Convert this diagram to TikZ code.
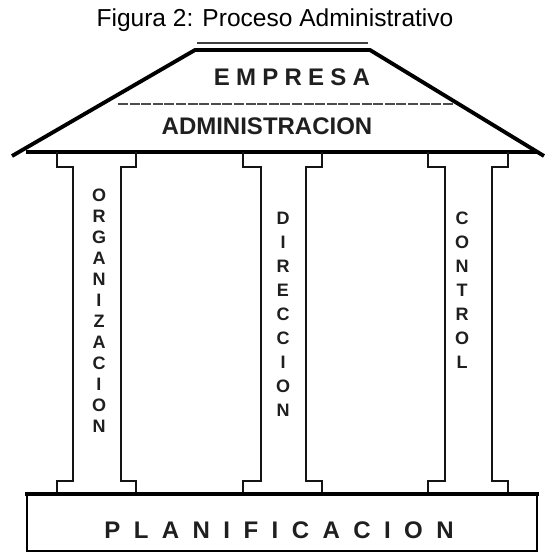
\documentclass[tikz,border=0pt]{standalone}
\usepackage{fontspec}
\setmainfont{Liberation Sans}
\newcommand\drawcolumn[4]{%
  \draw[colline] (#1,152) -- (#1,167) -- (#3,167) -- (#3,481) -- (#1,481) -- (#1,494);
  \draw[colline] (#2,152) -- (#2,167) -- (#4,167) -- (#4,481) -- (#2,481) -- (#2,494);
}
\begin{document}
\begin{tikzpicture}[x=0.75pt,y=-0.75pt,
  colline/.style={line width=2.1pt, black!92, line join=miter},
  roofedge/.style={line width=2.9pt, black, line join=round},
  word/.style={inner sep=0pt, text=black!88, font=\bfseries\fontsize{18}{20}\selectfont},
  vword/.style={inner sep=0pt, text=black!88, align=center, anchor=north},
]
\useasboundingbox[fill=white] (0,0) rectangle (547,554);
% roof
\draw[line width=1.1pt, black!75] (197,43) -- (368,43);
\draw[roofedge] (12,156) -- (195,50) -- (370,50) -- (544,156);
\draw[line width=3.2pt] (26,152) -- (538,152);
\draw[line width=0.8pt, black!70, dash pattern=on 7.5pt off 1.2pt] (118,104) -- (453,104);
% columns
\drawcolumn{57}{136}{73}{121}
\drawcolumn{243}{322}{261}{306}
\drawcolumn{428}{508}{445}{492}
% platform
\draw[line width=2.2pt] (27,494) rectangle (537,551);
\draw[line width=3.6pt] (25,494) -- (539,494);
% texts
\node[inner sep=0pt, anchor=base, font=\fontsize{18.4}{22}\selectfont] (title) at (275,26) {Figura 2: Proceso Administrativo};
\node[word, anchor=base, font=\bfseries\fontsize{18}{20}\selectfont\addfontfeature{LetterSpace=26}] (empresa) at (292,85) {EMPRESA};
\node[word, anchor=base] (admin) at (267,134) {ADMINISTRACION};
\node[word, anchor=base, font=\bfseries\fontsize{18}{20}\selectfont\addfontfeature{LetterSpace=56}] (planif) at (279,538) {PLANIFICACION};
\node[vword, font=\bfseries\fontsize{13.5}{15.75}\selectfont] (org) at (99,189) {O\\R\\G\\A\\N\\I\\Z\\A\\C\\I\\O\\N};
\node[vword, font=\bfseries\fontsize{13.5}{18}\selectfont] (dir) at (283,212) {D\\I\\R\\E\\C\\C\\I\\O\\N};
\node[vword, font=\bfseries\fontsize{13.5}{18}\selectfont] (ctrl) at (462,212) {C\\O\\N\\T\\R\\O\\L};
\end{tikzpicture}
\end{document}
